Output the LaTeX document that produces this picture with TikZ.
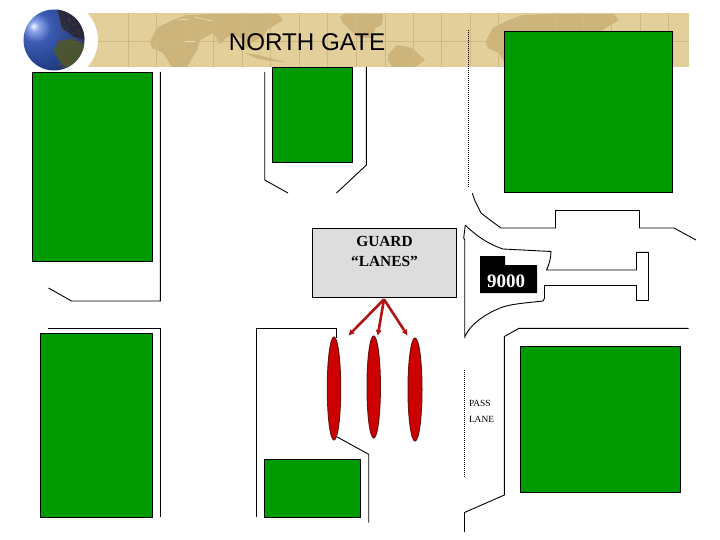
\documentclass[tikz,border=0pt]{standalone}
\usepackage{fontspec}
\setmainfont{Liberation Serif}
\newfontfamily\arialfont{Liberation Sans}
\usetikzlibrary{arrows.meta,shapes.geometric}
\definecolor{bannerbg}{HTML}{E3CF9A}
\definecolor{bannerland}{HTML}{CDB47A}
\definecolor{bannergrid}{HTML}{CFB983}
\definecolor{blockgreen}{HTML}{009900}
\definecolor{lanered}{HTML}{CC0000}
\definecolor{laneedge}{HTML}{701010}
\definecolor{arrowred}{HTML}{B01515}
\definecolor{guardgrey}{HTML}{DDDDDD}
\definecolor{landgreen}{HTML}{4E5A24}
\definecolor{landbrown}{HTML}{7A4A30}
\definecolor{landdark}{HTML}{2A1E1A}
\pgfdeclareradialshading{globeshade}{\pgfpoint{-17bp}{11.5bp}}{
  rgb(0bp)=(0.95,0.97,1);
  rgb(4bp)=(0.55,0.65,0.92);
  rgb(12bp)=(0.24,0.36,0.70);
  rgb(28bp)=(0.14,0.26,0.56);
  rgb(45bp)=(0.12,0.18,0.36);
  rgb(60bp)=(0.07,0.08,0.14);
  rgb(100bp)=(0.03,0.03,0.05)}
\tikzset{
  block/.style={draw=black,fill=blockgreen,line width=0.9pt,inner sep=0pt,outer sep=0pt},
  road/.style={draw=black,line width=0.9pt,line join=miter},
  dotline/.style={draw=black,line width=0.8pt,dash pattern=on 1pt off 1pt},
  lane/.style={draw=laneedge,fill=lanered,line width=1pt,shape=ellipse,inner sep=0pt,outer sep=0pt},
  pointer/.style={draw=arrowred,line width=2.6pt,-{Latex[length=6pt,width=6.5pt]}},
  small/.style={font=\fontsize{9.4}{10}\selectfont,inner sep=0pt,anchor=west},
}
\newcommand{\eurasia}{(150,41.7) -- (157,28) -- (173,20) -- (187,15) -- (213,14) -- (278,14) -- (283,20) -- (267,30) -- (263,37) -- (252,42) -- (247,49) -- (243,40) -- (236,36) -- (227,37) -- (220,44) -- (213,33) -- (200,40) -- (197,50) -- (187,67) -- (172,67) -- (163,53) -- (152,48) -- cycle}
\begin{document}
\begin{tikzpicture}[x=1pt,y=-1pt]
\useasboundingbox (0,0) rectangle (720,540);
\fill[white] (0,0) rectangle (720,540);
% banner
\fill[bannerbg] (85,13.5) rectangle (689,67);
\begin{scope}
  \clip (85,13.5) rectangle (689,67);
  \fill[bannerland] \eurasia;
  \begin{scope}[shift={(335.7pt,0pt)}]
    \fill[bannerland] \eurasia;
  \end{scope}
  \fill[bannerland] (340,17) -- (345,13.5) -- (383,14) -- (382,25) -- (375,28) -- (373,38) -- (360,38) -- (350,30) -- (343,23) -- cycle;
  \fill[bannerland] (388,55) -- (397,45) -- (412,48) -- (425,60) -- (415,67) -- (392,67) -- (388,60) -- cycle;
  \fill[bannerland] (245,53) -- (258,55) -- (270,58) -- (285,62) -- (270,61) -- (255,58) -- cycle;
  \draw[bannergrid,line width=0.8pt] (90,41) -- (689,41);
  \foreach \gx in {128.3,156.7,185,213.3,242,270.5,299,327.3,356,385,413.3,441.7,470,498.3,526.7,555,583.3,611.7,640,668.8}
    \draw[bannergrid,line width=0.8pt] (\gx,13.5) -- (\gx,67);
  \draw[bannerbg!70!white,line width=0.7pt] (178,20) -- (190,19) (195,17) -- (212,21);
  \draw[bannerbg!70!white,line width=0.7pt] (185,41) -- (195,41);
\end{scope}
\fill[white] (59,40) circle (39);
% globe
\path[shading=globeshade] (54,40) circle (30.5);
\begin{scope}
  \clip (54,40) circle (30.5);
  \fill[landdark,opacity=0.7] (57,9) -- (86,12) -- (86,40) -- (74,37) -- (62,28) -- cycle;
  \fill[landgreen,opacity=0.85] (53,50) -- (60,41) -- (72,39) -- (84,44) -- (82,60) -- (68,70) -- (60,62) -- cycle;
  \pgfmathsetseed{7}
  \foreach \i in {1,...,70}{
    \pgfmathsetmacro{\dx}{58+rnd*26}
    \pgfmathsetmacro{\dy}{36+rnd*32}
    \fill[landbrown,opacity=0.8] (\dx,\dy) circle (0.8);
  }
  \foreach \i in {1,...,40}{
    \pgfmathsetmacro{\dx}{58+rnd*26}
    \pgfmathsetmacro{\dy}{11+rnd*24}
    \fill[landbrown,opacity=0.6] (\dx,\dy) circle (0.7);
  }
\end{scope}
\node[font=\arialfont\fontsize{24.2}{26}\selectfont,inner sep=0pt,text=black] (title) at (307,42.5) {NORTH GATE};
% green blocks
\node[block,minimum width=120.4pt,minimum height=188.7pt] (blockA) at (92.5,166.7) {};
\node[block,minimum width=80.4pt,minimum height=95.2pt] (blockB) at (312.5,114.9) {};
\node[block,minimum width=168.4pt,minimum height=161pt] (blockC) at (588.5,111.8) {};
\node[block,minimum width=112.7pt,minimum height=184pt] (blockD) at (96.4,425) {};
\node[block,minimum width=96.4pt,minimum height=58pt] (blockE) at (312.5,488.3) {};
\node[block,minimum width=160.4pt,minimum height=146pt] (blockF) at (600.5,419.3) {};
% roads
\path[road] (160.4,72) -- (160.4,301) -- (71.5,301) -- (48.5,288);
\path[road] (48,328.5) -- (160.4,328.5) -- (160.4,517);
\path[road] (264.7,72) -- (264.7,180) -- (288,193);
\path[road] (366.4,67) -- (366.4,165) -- (336.5,193);
\path[dotline] (468.4,30) -- (468.4,187);
\path[road] (472.3,193.3) -- (475,201) -- (481,213) -- (490,220) -- (501,228) -- (555.5,228) -- (555.5,210.5) -- (639.5,210.5) -- (639.5,228) -- (674,228) -- (696,240);
\path[road] (465.3,225) .. controls (472,232) and (485,243) .. (503,249) -- (551,251.5) .. controls (551,258) and (549,265) .. (546.5,270) -- (636.5,270) -- (636.5,252.3) -- (648.5,252.3) -- (648.5,300.5) -- (636.5,300.5) -- (636.5,285.5) -- (544.5,285.5) -- (544.5,298) -- (543,301) .. controls (525,303) and (510,304) .. (500,308) .. controls (488,313) and (472,322) .. (465,336) -- (464.7,338) -- (464.7,240) -- (463.7,238) -- (465.3,225);
\path[road] (688.7,328.3) -- (519,328.3) -- (504.4,336.5) -- (504.4,495) -- (464.5,512.5) -- (464.5,532);
\path[dotline] (464.5,370) -- (464.5,478);
\path[road] (256.4,517) -- (256.4,328.4) -- (336.7,328.4) -- (336.7,338);
\path[road] (336.7,436.7) -- (368.7,454.3) -- (368.7,522.7);
% guard
\node[draw=black,fill=guardgrey,line width=0.9pt,minimum width=144.4pt,minimum height=69pt,inner sep=0pt,outer sep=0pt] (guard) at (384.5,262.8) {};
\node[font=\fontsize{15.4}{20}\selectfont\bfseries,inner sep=0pt,align=center,anchor=north] (guardlabel) at (384.5,236.3) {GUARD\\“LANES”};
% 9000
\path[fill=black] (480,256) -- (505,256) -- (505,265) -- (537,265) -- (537,293) -- (480,293) -- cycle;
\node[font=\fontsize{19}{20}\selectfont\bfseries,text=white,inner sep=0pt] (num) at (506,281.7) {9000};
% lanes
\node[lane,minimum width=13.4pt,minimum height=103pt] (laneA) at (334,388.5) {};
\node[lane,minimum width=13.4pt,minimum height=102pt] (laneB) at (373.7,387) {};
\node[lane,minimum width=14pt,minimum height=103pt] (laneC) at (415,389.5) {};
\coordinate (apex) at (384,299.3);
\coordinate (tipA) at (348.3,335.7);
\coordinate (tipB) at (377.7,336);
\coordinate (tipC) at (407.7,335.7);
\draw[pointer] (apex) -- (tipA);
\draw[pointer] (apex) -- (tipB);
\draw[pointer] (apex) -- (tipC);
\node[small] (pass) at (468.8,403.3) {PASS};
\node[small] (lanelabel) at (468.8,419.3) {LANE};
\end{tikzpicture}
\end{document}
